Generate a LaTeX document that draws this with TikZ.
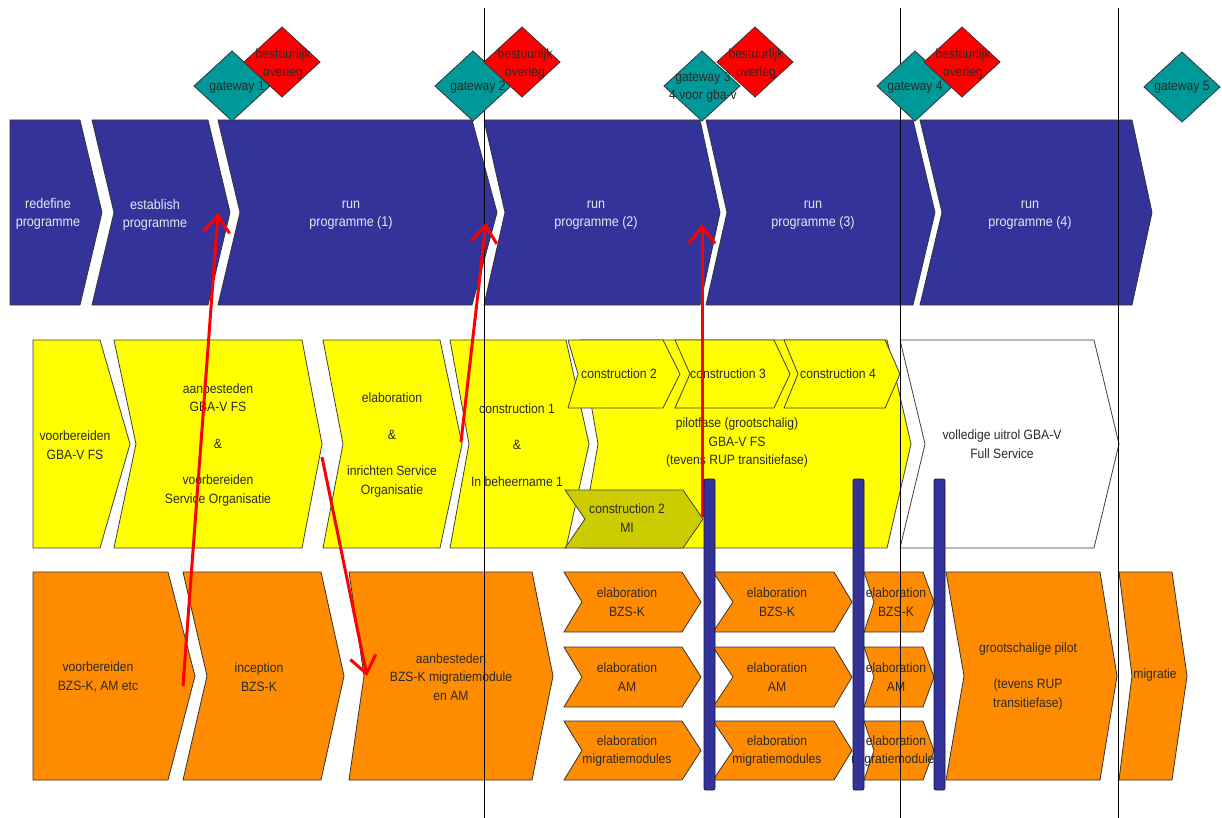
\documentclass[tikz,border=0pt]{standalone}
\usepackage{fontspec}
\setmainfont{Liberation Sans}[FakeStretch=0.9]
\usetikzlibrary{arrows.meta}
\definecolor{pblue}{HTML}{333399}
\definecolor{pteal}{HTML}{009999}
\definecolor{pyellow}{HTML}{FFFF00}
\definecolor{polive}{HTML}{CCCC00}
\definecolor{porange}{HTML}{FF8C00}
\definecolor{ptext}{HTML}{2A2A2A}
\definecolor{pwtext}{HTML}{E6E6F2}
% style, x-left, x-notch, x-right(top), x-tip, y-top, y-bottom
\newcommand{\chv}[7]{\path[#1] (#2,#6) -- (#4,#6) -- (#5,{(#6+#7)/2}) -- (#4,#7) -- (#2,#7) -- (#3,{(#6+#7)/2}) -- cycle;}
\newcommand{\dmd}[3]{\path[#1] (#2,#3) +(-38,0) -- +(0,-35) -- +(38,0) -- +(0,35) -- cycle;}
\begin{document}
\begin{tikzpicture}[x=1pt,y=-1pt,
  lbl/.style={align=center,font=\fontsize{13.5}{18.5}\selectfont,text=ptext,inner sep=0pt},
  wlbl/.style={lbl,font=\fontsize{14}{18.5}\selectfont,text=pwtext},
  blueshape/.style={fill=pblue,draw=black!80,line width=0.8pt},
  yelshape/.style={fill=pyellow,draw=black!75,line width=0.8pt},
  oliveshape/.style={fill=polive,draw=black!75,line width=0.8pt},
  whiteshape/.style={fill=white,draw=black!75,line width=0.8pt},
  orshape/.style={fill=porange,draw=black!80,line width=0.8pt},
  gatewaybox/.style={fill=pteal,draw=black!80,line width=0.8pt},
  overlegbox/.style={fill=red,draw=black!80,line width=0.8pt},
  phaseline/.style={draw=black,line width=1pt},
  redarrow/.style={draw=red,line width=3pt,-{Straight Barb[length=17pt,width=26pt]}},
  milestone/.style={fill=pblue,draw=black!60!pblue,line width=0.8pt,rounded corners=2pt}]
\useasboundingbox[fill=white] (0,0) rectangle (1222,818);

% ---- blue row
\chv{blueshape}{10}{10}{80}{102}{120}{305}
\chv{blueshape}{92}{114}{208}{230}{120}{305}
\chv{blueshape}{218}{240}{472}{497}{120}{305}
\chv{blueshape}{484}{505}{700}{720}{120}{305}
\chv{blueshape}{706}{727}{913}{935}{120}{305}
\chv{blueshape}{920}{942}{1132}{1152}{120}{305}

% ---- yellow row
\chv{yelshape}{33}{33}{100}{130}{340}{548}
\chv{yelshape}{114}{136}{302}{322}{340}{548}
\chv{yelshape}{323}{343}{440}{462}{340}{548}
\chv{yelshape}{450}{469}{566}{589}{340}{548}
\chv{yelshape}{580}{598}{887}{911}{340}{548}
\chv{yelshape}{568}{578}{663}{680}{340}{408}
\chv{yelshape}{675}{690}{774}{790}{340}{408}
\chv{yelshape}{784}{798}{885}{900}{340}{408}
\chv{oliveshape}{565}{585}{683}{703}{490}{548}
\chv{whiteshape}{900}{925}{1094}{1119}{340}{548}

% ---- orange row
\chv{orshape}{33}{33}{168}{195}{572}{780}
\chv{orshape}{183}{207}{321}{344}{572}{780}
\chv{orshape}{349}{364}{532}{553}{572}{780}
\chv{orshape}{564}{582}{682}{701}{572}{632}
\chv{orshape}{564}{582}{682}{701}{647}{707}
\chv{orshape}{564}{582}{682}{701}{721}{780}
\chv{orshape}{713}{733}{834}{852}{572}{632}
\chv{orshape}{713}{733}{834}{852}{647}{707}
\chv{orshape}{713}{733}{834}{852}{721}{780}
\chv{orshape}{864}{874}{923}{934}{572}{632}
\chv{orshape}{864}{874}{923}{934}{647}{707}
\chv{orshape}{864}{874}{923}{934}{721}{780}
\chv{orshape}{946}{964}{1100}{1117}{572}{780}
\chv{orshape}{1119}{1132}{1172}{1187}{572}{780}

% ---- texts blue
\node[wlbl] (tredef) at (48,214) {redefine\\programme};
\node[wlbl] (testab) at (155,215) {establish\\programme};
\node[wlbl] (trun1) at (351,215) {run\\programme (1)};
\node[wlbl] (trun2) at (596,215) {run\\programme (2)};
\node[wlbl] (trun3) at (813,215) {run\\programme (3)};
\node[wlbl] (trun4) at (1030,215) {run\\programme (4)};

% ---- texts yellow
\node[lbl] (tvgba) at (75,445) {voorbereiden\\GBA-V FS};
\node[lbl] (taanb) at (218,445) {aanbesteden\\GBA-V FS\\[18pt]\&\\[18pt]voorbereiden\\Service Organisatie};
\node[lbl] (telab) at (392,445) {elaboration\\[18pt]\&\\[18pt]inrichten Service\\Organisatie};
\node[lbl] (tcon1) at (517,445) {construction 1\\[18pt]\&\\[18pt]In beheername 1};
\node[lbl] (tpilot) at (737,443) {pilotfase (grootschalig)\\GBA-V FS\\(tevens RUP transitiefase)};
\node[lbl] (tcon2) at (619,374) {construction 2};
\node[lbl] (tcon3) at (728,374) {construction 3};
\node[lbl] (tcon4) at (838,374) {construction 4};
\node[lbl] (tcon2mi) at (627,518) {construction 2\\MI};
\node[lbl] (tvolle) at (1002,444) {volledige uitrol GBA-V\\Full Service};

% ---- texts orange
\node[lbl] (tvbzs) at (98,677) {voorbereiden\\BZS-K, AM etc};
\node[lbl] (tincep) at (259,677) {inception\\BZS-K};
\node[lbl] (taanbz) at (451,677) {aanbesteden\\BZS-K migratiemodule\\en AM};
\node[lbl] (te11) at (627,602) {elaboration\\BZS-K};
\node[lbl] (te12) at (627,677) {elaboration\\AM};
\node[lbl] (te13) at (627,751) {elaboration\\migratiemodules};
\node[lbl] (te21) at (777,602) {elaboration\\BZS-K};
\node[lbl] (te22) at (777,677) {elaboration\\AM};
\node[lbl] (te23) at (777,751) {elaboration\\migratiemodules};
\node[lbl] (te31) at (896,602) {elaboration\\BZS-K};
\node[lbl] (te32) at (896,677) {elaboration\\AM};
\node[lbl] (te33) at (896,751) {elaboration\\migratiemodules};
\node[lbl] (tgroot) at (1028,676) {grootschalige pilot\\[18pt](tevens RUP\\transitiefase)};
\node[lbl] (tmigr) at (1155,675) {migratie};

% ---- phase lines
\coordinate (l1t) at (484,8); \coordinate (l1b) at (484,818);
\coordinate (l2t) at (900,8); \coordinate (l2b) at (900,818);
\coordinate (l3t) at (1118,8); \coordinate (l3b) at (1118,818);
\draw[phaseline] (l1t) -- (l1b);
\draw[phaseline] (l2t) -- (l2b);
\draw[phaseline] (l3t) -- (l3b);

% ---- red arrows
\coordinate (r1s) at (183,686); \coordinate (r1e) at (218,213);
\coordinate (r2s) at (322,457); \coordinate (r2e) at (367,676);
\coordinate (r3s) at (461,442); \coordinate (r3e) at (486,223);
\coordinate (r4s) at (702,517); \coordinate (r4e) at (702,224);
\draw[redarrow] (r1s) -- (r1e);
\draw[redarrow] (r2s) -- (r2e);
\draw[redarrow] (r3s) -- (r3e);
\draw[redarrow] (r4s) -- (r4e);

% ---- milestone bars
\path[milestone] (704,479) rectangle (715,790);
\path[milestone] (853,479) rectangle (864,790);
\path[milestone] (934,479) rectangle (945,790);

% ---- gateways
\dmd{gatewaybox}{232}{86}
\dmd{overlegbox}{282}{62}
\dmd{gatewaybox}{473}{86}
\dmd{overlegbox}{522}{62}
\dmd{gatewaybox}{702}{86}
\dmd{overlegbox}{755}{62}
\dmd{gatewaybox}{915}{86}
\dmd{overlegbox}{962}{62}
\dmd{gatewaybox}{1182}{87}
\node[lbl] (tg1) at (237,87) {gateway 1};
\node[lbl] (to1) at (283,64) {bestuurlijk\\overleg};
\node[lbl] (tg2) at (478,87) {gateway 2};
\node[lbl] (to2) at (525,64) {bestuurlijk\\overleg};
\node[lbl] (tg3) at (703,87) {gateway 3\\4 voor gba-v};
\node[lbl] (to3) at (756,64) {bestuurlijk\\overleg};
\node[lbl] (tg4) at (915,87) {gateway 4};
\node[lbl] (to4) at (963,64) {bestuurlijk\\overleg};
\node[lbl] (tg5) at (1182,87) {gateway 5};
\end{tikzpicture}
\end{document}
